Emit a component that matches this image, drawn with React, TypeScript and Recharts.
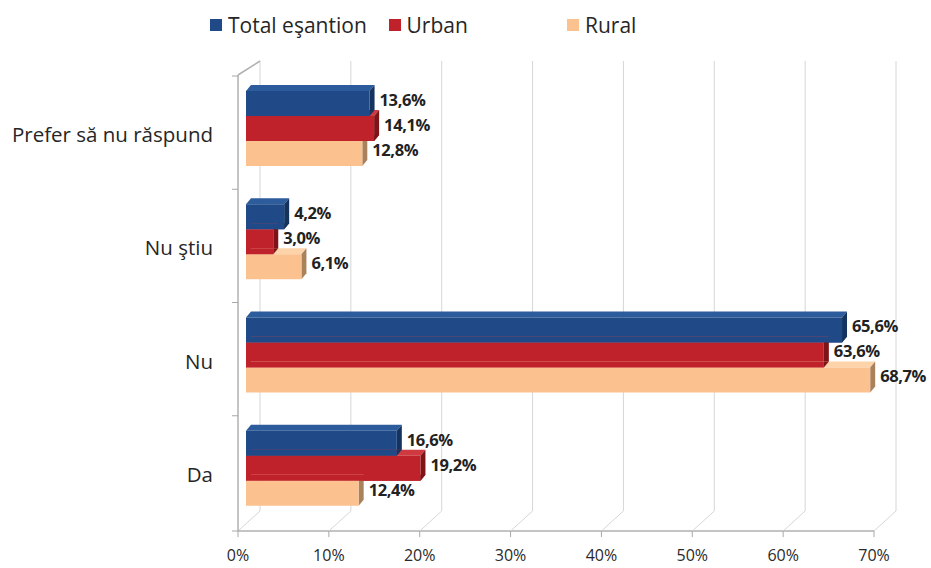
import { Bar, BarChart, CartesianGrid, LabelList, XAxis, YAxis } from "recharts";

const categories = ["Prefer să nu răspund", "Nu ştiu", "Nu", "Da"];
const totalValues = [13.6, 4.2, 65.6, 16.6];
const urbanValues = [14.1, 3.0, 63.6, 19.2];
const ruralValues = [12.8, 6.1, 68.7, 12.4];
const xTicks = [0, 10, 20, 30, 40, 50, 60, 70];

const series = [
  { key: "total", name: "Total eşantion", front: "#1f4a87", top: "#2d5c9c", side: "#15335f", upper: null },
  { key: "urban", name: "Urban", front: "#c0222b", top: "#cf3a41", side: "#7e1418", upper: "total" },
  { key: "rural", name: "Rural", front: "#fbc18f", top: "#fdd3aa", side: "#a9825c", upper: "urban" },
];

const rows = categories.map((name, i) => ({
  name,
  total: totalValues[i],
  urban: urbanValues[i],
  rural: ruralValues[i],
}));

// 3D look
const DX = 5;
const DY = 6;
const WALL_TOP = 61;
const WALL_BOTTOM = 511;
const FRONT_Y = 531;
const PLOT_W = 636;
const BAND_HALF = 56.6;
const FONT = "'Open Sans', Lato, sans-serif";

const fmt = (v: number) => `${v.toFixed(1).replace(".", ",")}%`;

function Bar3D(props: any) {
  const { x, y, width, height, payload, s } = props;
  const w = Math.max(width, 0);
  const x1 = x + w;
  const parts: any[] = [];
  parts.push(
    <polygon key="top" points={`${x},${y} ${x + DX},${y - DY} ${x1 + DX},${y - DY} ${x1},${y}`} fill={s.top} />
  );
  parts.push(
    <polygon key="side" points={`${x1},${y} ${x1 + DX},${y - DY} ${x1 + DX},${y + height - DY} ${x1},${y + height}`} fill={s.side} />
  );
  parts.push(<rect key="front" x={x} y={y} width={w} height={height} fill={s.front} />);
  if (s.upper) {
    // the bar above sits in front of this bar's top face
    const up = series.find((o) => o.key === s.upper)!;
    const wu = (w * payload[s.upper]) / payload[s.key];
    parts.push(<rect key="ufront" x={x} y={y - DY} width={wu} height={DY} fill={up.front} />);
    parts.push(
      <polygon key="uside" points={`${x + wu},${y - DY} ${x + wu + DX},${y - DY} ${x + wu},${y}`} fill={up.side} />
    );
  }
  return <g>{parts}</g>;
}

function ValueLabel(props: any) {
  const { x, y, width, height, value } = props;
  return (
    <text
      x={x + width + DX + 5}
      y={y + height / 2 - 2}
      dominantBaseline="middle"
      fontFamily={FONT}
      fontWeight={700}
      fontSize={16.5}
      letterSpacing={-0.4}
      fill="#222"
    >
      {fmt(value)}
    </text>
  );
}

// back wall gridline + floor line, drawn under the bars
function WallLine(props: any) {
  const { x1, index } = props;
  const fx = x1 - 8;
  const bx = x1 + 14;
  return (
    <g key={`wall-${index}`}>
      <line x1={bx} y1={WALL_TOP} x2={bx} y2={WALL_BOTTOM} stroke="#d6d6d6" />
      <line x1={bx} y1={WALL_BOTTOM} x2={fx} y2={FRONT_Y} stroke="#d6d6d6" />
      {index === 0 && (
        <g stroke="#b0b0b0" strokeWidth={1.5} fill="none">
          <line x1={fx} y1={FRONT_Y} x2={fx + PLOT_W} y2={FRONT_Y} />
          <line x1={fx} y1={75} x2={fx} y2={FRONT_Y} />
          <line x1={fx} y1={75} x2={bx} y2={WALL_TOP} />
        </g>
      )}
    </g>
  );
}

function XTick(props: any) {
  const { x, payload } = props;
  const fx = x - 8;
  return (
    <g>
      <line x1={fx} y1={FRONT_Y} x2={fx} y2={FRONT_Y + 6} stroke="#a8a8a8" />
      <text x={fx} y={557} textAnchor="middle" dominantBaseline="middle" fontFamily={FONT} fontSize={16} fill="#2a2a2a">
        {payload.value}%
      </text>
    </g>
  );
}

function YTick(props: any) {
  const { y, payload, index } = props;
  const last = index === categories.length - 1;
  return (
    <g>
      <line x1={232} y1={y - BAND_HALF + 4} x2={238} y2={y - BAND_HALF + 4} stroke="#a8a8a8" />
      {last && <line x1={232} y1={FRONT_Y} x2={238} y2={FRONT_Y} stroke="#a8a8a8" />}
      <text x={213} y={y + 8} textAnchor="end" dominantBaseline="middle" fontFamily={FONT} fontSize={20.5} fill="#262626">
        {payload.value}
      </text>
    </g>
  );
}

export default function App() {
  return (
    <div style={{ position: "absolute", left: 0, top: 0, width: 931, height: 568, background: "#fff", fontFamily: FONT }}>
      <div style={{ position: "absolute", top: 13, left: 0, height: 24 }}>
        {series.map((s, i) => (
          <div
            key={s.key}
            style={{ position: "absolute", left: 210 + i * 178.5, top: 0, display: "flex", alignItems: "center", whiteSpace: "nowrap" }}
          >
            <span style={{ width: 12, height: 12, background: s.front, display: "inline-block", marginRight: 6 }} />
            <span style={{ fontSize: 21, color: "#262626", lineHeight: "24px" }}>{s.name}</span>
          </div>
        ))}
      </div>
      <BarChart
        width={931}
        height={568}
        layout="vertical"
        data={rows}
        margin={{ top: 72, right: 49, bottom: 13, left: 0 }}
        barGap={0}
        barSize={25}
      >
        <CartesianGrid horizontal={false} vertical={(p: any) => <WallLine {...p} />} />
        <XAxis type="number" domain={[0, 70]} ticks={xTicks} axisLine={false} tickLine={false} tick={<XTick />} height={30} interval={0} />
        <YAxis type="category" dataKey="name" width={246} axisLine={false} tickLine={false} tick={<YTick />} interval={0} />
        {series.map((s) => (
          <Bar key={s.key} dataKey={s.key} name={s.name} isAnimationActive={false} shape={(p: any) => <Bar3D {...p} s={s} />}>
            <LabelList dataKey={s.key} content={<ValueLabel />} />
          </Bar>
        ))}
      </BarChart>
    </div>
  );
}
